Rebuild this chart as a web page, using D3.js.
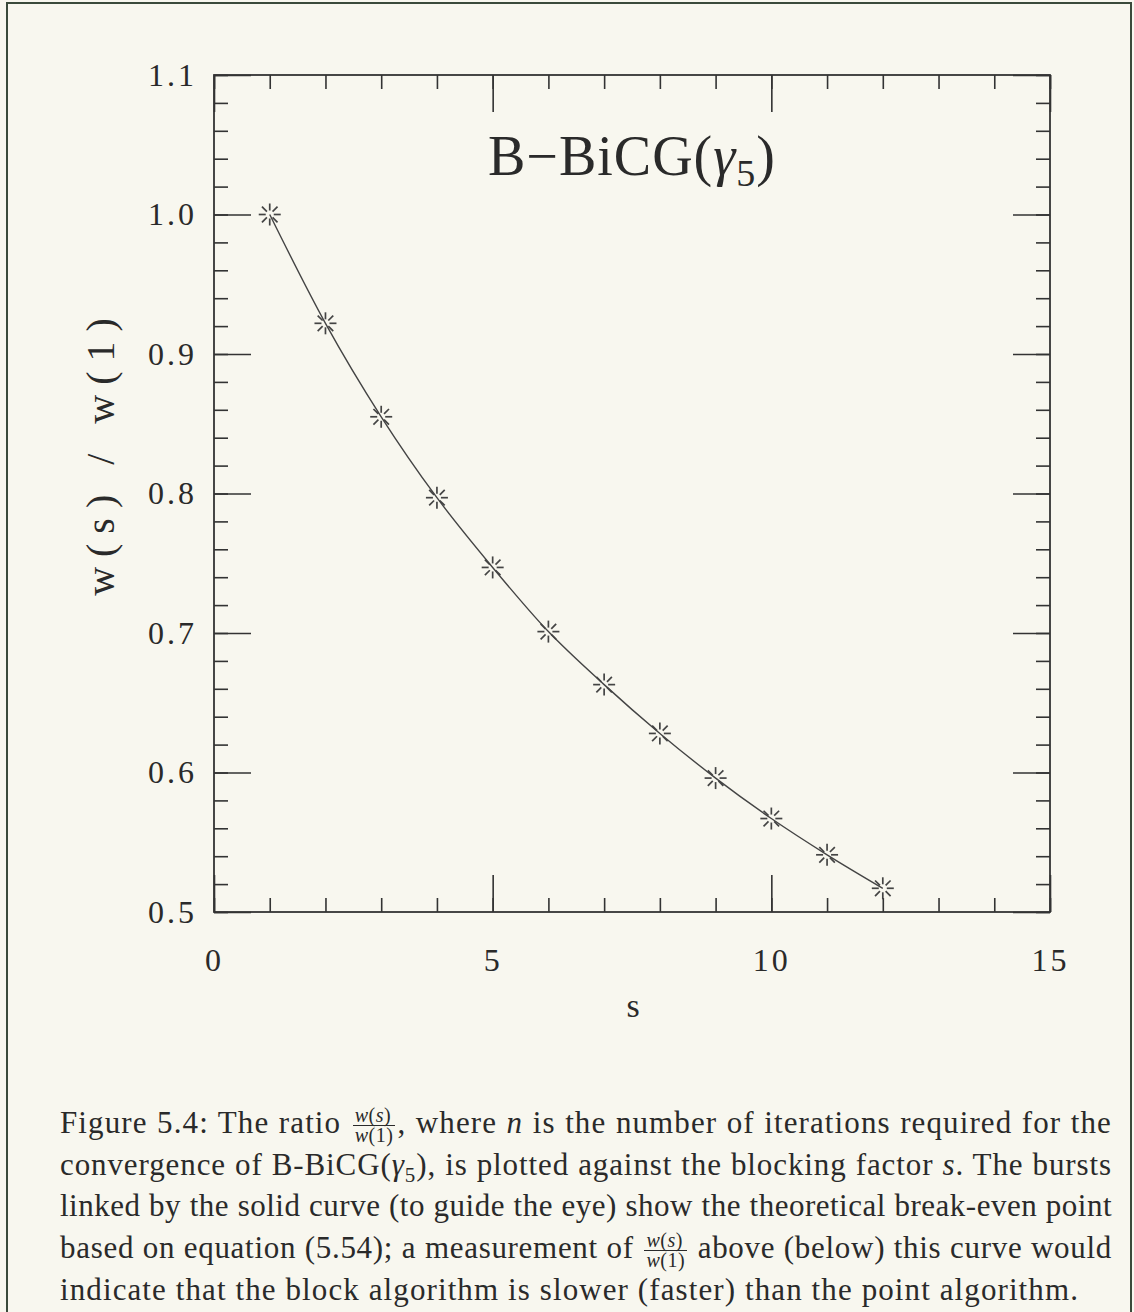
<!DOCTYPE html>
<html>
<head>
<meta charset="utf-8">
<script src="https://cdn.jsdelivr.net/npm/d3@7"></script>
<style>
  body { margin: 0; background: #f8f7ef; }
  #wrap { position: relative; width: 1134px; height: 1312px; overflow: hidden; }
  svg { position: absolute; left: 0; top: 0; }
  .caption { position: absolute; left: 60px; top: 1102px; width: 1052px;
    font-family: "Liberation Serif", "DejaVu Serif", serif; font-size: 31px; color: #2a2a2a; }
  .caption div { height: 41.7px; line-height: 41.7px; text-align: justify; text-align-last: justify; white-space: nowrap; }
  .caption div.last { text-align-last: left; }
  .frac { display: inline-block; vertical-align: middle; text-align: center; font-size: 20px; line-height: 19px; margin: 0 2px; letter-spacing: 0.5px; }
  .frac span { display: block; padding: 0 2px; }
  .frac span.num { border-bottom: 1px solid #2a2a2a; }
</style>
</head>
<body>
<div id="wrap"></div>
<script>

// data
const blocking = [1, 2, 3, 4, 5, 6, 7, 8, 9, 10, 11, 12]
const ratio = [1.0, 0.922, 0.855, 0.797, 0.747, 0.701, 0.663, 0.628, 0.596, 0.567, 0.541, 0.517]

const xMajor = [0, 5, 10, 15]
const yMajor = [0.5, 0.6, 0.7, 0.8, 0.9, 1.0, 1.1]

const ink = "#333"
const serif = "'Liberation Serif', 'DejaVu Serif', serif"

const svg = d3.select("#wrap")
    .append("svg")
    .attr("width", 1134)
    .attr("height", 1312)

// page frame
svg.append("rect")
    .attr("x", 7).attr("y", 3)
    .attr("width", 1124).attr("height", 1320)
    .attr("fill", "none")
    .attr("stroke", "#3b4a3b")
    .attr("stroke-width", 2)

const x = d3.scaleLinear().domain([0, 15]).range([214, 1050])
const y = d3.scaleLinear().domain([0.5, 1.1]).range([912, 75])

const xMinor = d3.range(0, 16, 1)
const yMinor = d3.range(0, 31).map(i => +(0.5 + i * 0.02).toFixed(2))

const styleAxis = function(g) {
    g.select(".domain").remove()
    g.selectAll("line").attr("stroke", ink).attr("stroke-width", 1.6)
    g.selectAll("text")
        .attr("fill", "#2a2a2a")
        .style("font-family", serif)
        .style("font-size", "32px")
        .style("letter-spacing", "3px")
}

const addAxis = function(axis, tx, ty) {
    svg.append("g")
        .attr("transform", `translate(${tx}, ${ty})`)
        .call(axis)
        .call(styleAxis)
}

// minor ticks, all four sides
addAxis(d3.axisBottom(x).tickValues(xMinor).tickSize(-14).tickFormat(""), 0, 912)
addAxis(d3.axisTop(x).tickValues(xMinor).tickSize(-14).tickFormat(""), 0, 75)
addAxis(d3.axisLeft(y).tickValues(yMinor).tickSize(-14).tickFormat(""), 214, 0)
addAxis(d3.axisRight(y).tickValues(yMinor).tickSize(-14).tickFormat(""), 1050, 0)

// major ticks with labels
addAxis(d3.axisBottom(x).tickValues(xMajor).tickSize(-37).tickPadding(36).tickFormat(d3.format("d")), 0, 912)
addAxis(d3.axisTop(x).tickValues(xMajor).tickSize(-37).tickFormat(""), 0, 75)
addAxis(d3.axisLeft(y).tickValues(yMajor).tickSize(-37).tickPadding(17).tickFormat(d3.format(".1f")), 214, 0)
addAxis(d3.axisRight(y).tickValues(yMajor).tickSize(-37).tickFormat(""), 1050, 0)

// plot box
svg.append("rect")
    .attr("x", x(0)).attr("y", y(1.1))
    .attr("width", x(15) - x(0)).attr("height", y(0.5) - y(1.1))
    .attr("fill", "none")
    .attr("stroke", ink)
    .attr("stroke-width", 1.8)

const points = blocking.map((s, i) => [s, ratio[i]])

const line = d3.line()
    .x(d => x(d[0]))
    .y(d => y(d[1]))
    .curve(d3.curveMonotoneX)

svg.append("path")
    .datum(points)
    .attr("d", line)
    .attr("fill", "none")
    .attr("stroke", "#444")
    .attr("stroke-width", 1.4)

// burst markers: eight short rays with an empty centre
const rays = d3.range(8).map(k => k * Math.PI / 4)

const bursts = svg.append("g")
    .selectAll("g")
    .data(points)
    .enter()
    .append("g")
    .attr("transform", d => `translate(${x(d[0])}, ${y(d[1])})`)

bursts.selectAll("line")
    .data(rays)
    .enter()
    .append("line")
    .attr("x1", a => 4 * Math.cos(a))
    .attr("y1", a => 4 * Math.sin(a))
    .attr("x2", a => 11 * Math.cos(a))
    .attr("y2", a => 11 * Math.sin(a))
    .attr("stroke", "#444")
    .attr("stroke-width", 1.7)

// title
const title = svg.append("text")
    .attr("x", 632)
    .attr("y", 175)
    .attr("text-anchor", "middle")
    .attr("fill", "#2a2a2a")
    .style("font-family", serif)
    .style("font-size", "56px")
    .style("letter-spacing", "1px")

title.append("tspan").text("B\u2212BiCG(")
title.append("tspan").attr("font-style", "italic").text("\u03b3")
title.append("tspan").attr("dy", 11).style("font-size", "38px").text("5")
title.append("tspan").attr("dy", -11).text(")")

// axis titles
svg.append("text")
    .attr("transform", "translate(114, 452) rotate(-90)")
    .attr("text-anchor", "middle")
    .attr("fill", "#2a2a2a")
    .style("font-family", serif)
    .style("font-size", "40px")
    .style("letter-spacing", "10px")
    .text("w(s) / w(1)")

svg.append("text")
    .attr("x", 633)
    .attr("y", 1017)
    .attr("text-anchor", "middle")
    .attr("fill", "#2a2a2a")
    .style("font-family", serif)
    .style("font-size", "34px")
    .text("s")

// caption
const frac = "<span class='frac'><span class='num'><i>w</i>(<i>s</i>)</span><span><i>w</i>(1)</span></span>"

const captionLines = [
    "Figure 5.4: The ratio " + frac + ", where <i>n</i> is the number of iterations required for the",
    "convergence of B-BiCG(<i>\u03b3</i><sub style='font-size:21px;line-height:0'>5</sub>), is plotted against the blocking factor <i>s</i>. The bursts",
    "linked by the solid curve (to guide the eye) show the theoretical break-even point",
    "based on equation (5.54); a measurement of " + frac + " above (below) this curve would",
    "indicate that the block algorithm is slower (faster) than the point algorithm."
]

const rows = d3.select("#wrap")
    .append("div")
    .attr("class", "caption")
    .selectAll("div")
    .data(captionLines)
    .enter()
    .append("div")
    .attr("class", (d, i) => i === captionLines.length - 1 ? "last" : null)
    .html(d => d)

// widen letters like the original face, but never past the text block
rows.each(function() {
    let ls = 1.1
    this.style.letterSpacing = ls + "px"
    while (this.scrollWidth > 1052 && ls > -1) {
        ls -= 0.1
        this.style.letterSpacing = ls.toFixed(1) + "px"
    }
})

</script>
</body>
</html>
